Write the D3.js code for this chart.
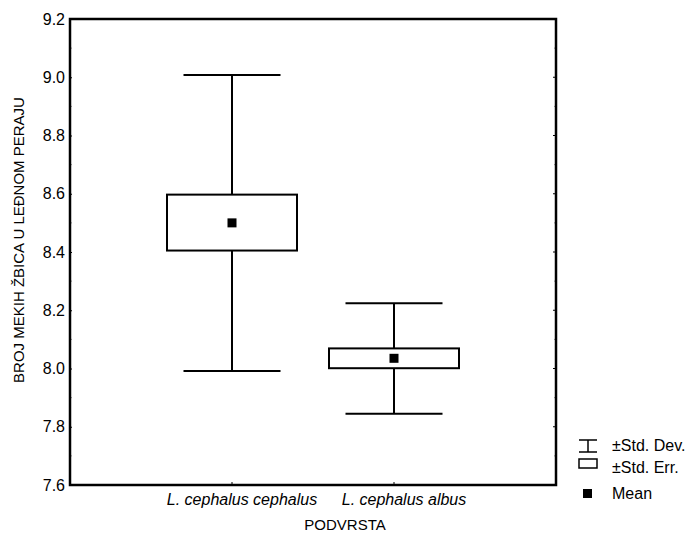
<!DOCTYPE html>
<html><head><meta charset="utf-8">
<script src="https://cdn.jsdelivr.net/npm/d3@7"></script>
<style>body{margin:0;background:#fff}svg{display:block;font-family:Arial,"Liberation Sans",sans-serif}</style>
</head><body><svg id="c" width="687" height="535"></svg>
<script>
const categories = ["L. cephalus cephalus", "L. cephalus albus"];
const means = [8.50, 8.035];
const seLow = [8.405, 8.001];
const seHigh = [8.597, 8.069];
const sdLow = [7.991, 7.845];
const sdHigh = [9.008, 8.224];
const yTicks = [7.6, 7.8, 8.0, 8.2, 8.4, 8.6, 8.8, 9.0, 9.2];
const yMinor = [7.7, 7.9, 8.1, 8.3, 8.5, 8.7, 8.9, 9.1];
const legendLabels = ["±Std. Dev.", "±Std. Err.", "Mean"];

const svg = d3.select("#c");
const L = 70, R = 556, T = 19, B = 485;
const x = d3.scalePoint().domain(categories).range([L, R]).padding(1);
const y = d3.scaleLinear().domain([7.6, 9.2]).range([B, T]);

const yAxis = d3.axisLeft(y).tickValues(yTicks).tickFormat(d3.format(".1f")).tickSizeInner(-2).tickSizeOuter(0).tickPadding(5);
const gy = svg.append("g").attr("transform", `translate(${L},0)`).call(yAxis);
gy.select(".domain").remove();
gy.selectAll("text").attr("font-size", 16).attr("fill", "#000").attr("font-family", "Arial, 'Liberation Sans', sans-serif");
gy.selectAll("line").attr("stroke", "#000");
svg.append("g").selectAll("line").data(yMinor).join("line")
  .attr("x1", L).attr("x2", L + 2).attr("y1", d => y(d)).attr("y2", d => y(d)).attr("stroke", "#999");
svg.append("g").selectAll("line").data(yTicks).join("line")
  .attr("x1", R).attr("x2", R - 3).attr("y1", d => y(d)).attr("y2", d => y(d)).attr("stroke", "#000");
svg.append("g").selectAll("line").data(yMinor).join("line")
  .attr("x1", R).attr("x2", R - 2).attr("y1", d => y(d)).attr("y2", d => y(d)).attr("stroke", "#999");
svg.append("g").selectAll("line").data(categories).join("line")
  .attr("x1", d => x(d)).attr("x2", d => x(d)).attr("y1", B).attr("y2", B - 3).attr("stroke", "#000");
svg.append("g").selectAll("text").data(categories).join("text")
  .attr("x", d => x(d) + 10).attr("y", 505).attr("text-anchor", "middle")
  .attr("font-size", 16).attr("font-style", "italic").text(d => d);

svg.append("rect").attr("x", L).attr("y", T).attr("width", R - L).attr("height", B - T)
  .attr("fill", "none").attr("stroke", "#000").attr("stroke-width", 2.5);

const boxW = 130, capW = 97;
const g = svg.append("g").selectAll("g").data(categories).join("g");
g.append("line").attr("x1", d => x(d)).attr("x2", d => x(d))
  .attr("y1", (d, i) => y(sdHigh[i])).attr("y2", (d, i) => y(seHigh[i])).attr("stroke", "#000").attr("stroke-width", 2);
g.append("line").attr("x1", d => x(d)).attr("x2", d => x(d))
  .attr("y1", (d, i) => y(seLow[i])).attr("y2", (d, i) => y(sdLow[i])).attr("stroke", "#000").attr("stroke-width", 2);
g.append("line").attr("x1", d => x(d) - capW / 2).attr("x2", d => x(d) + capW / 2)
  .attr("y1", (d, i) => y(sdHigh[i])).attr("y2", (d, i) => y(sdHigh[i])).attr("stroke", "#000").attr("stroke-width", 2);
g.append("line").attr("x1", d => x(d) - capW / 2).attr("x2", d => x(d) + capW / 2)
  .attr("y1", (d, i) => y(sdLow[i])).attr("y2", (d, i) => y(sdLow[i])).attr("stroke", "#000").attr("stroke-width", 2);
g.append("rect").attr("x", d => x(d) - boxW / 2).attr("width", boxW)
  .attr("y", (d, i) => y(seHigh[i])).attr("height", (d, i) => y(seLow[i]) - y(seHigh[i]))
  .attr("fill", "#fff").attr("stroke", "#000").attr("stroke-width", 2);
g.append("rect").attr("x", d => x(d) - 4.5).attr("width", 9)
  .attr("y", (d, i) => y(means[i]) - 4.5).attr("height", 9).attr("fill", "#000");

svg.append("text").attr("transform", "translate(24,240) rotate(-90)").attr("text-anchor", "middle")
  .attr("font-size", 15).text("BROJ MEKIH ŽBICA U LEĐNOM PERAJU");
svg.append("text").attr("x", 345).attr("y", 530).attr("text-anchor", "middle").attr("font-size", 15).text("PODVRSTA");

const lg = svg.append("g");
lg.append("line").attr("x1", 579).attr("x2", 597).attr("y1", 440).attr("y2", 440).attr("stroke", "#000").attr("stroke-width", 1.5);
lg.append("line").attr("x1", 579).attr("x2", 597).attr("y1", 452).attr("y2", 452).attr("stroke", "#000").attr("stroke-width", 1.5);
lg.append("line").attr("x1", 588).attr("x2", 588).attr("y1", 440).attr("y2", 452).attr("stroke", "#000").attr("stroke-width", 1.5);
lg.append("rect").attr("x", 579).attr("y", 459).attr("width", 18).attr("height", 9).attr("fill", "#fff").attr("stroke", "#000").attr("stroke-width", 1.5);
lg.append("rect").attr("x", 583).attr("y", 489).attr("width", 9).attr("height", 9).attr("fill", "#000");
lg.selectAll("text").data(legendLabels).join("text")
  .attr("x", 612).attr("y", (d, i) => [451, 473, 499][i]).attr("font-size", 16).text(d => d);
</script></body></html>
